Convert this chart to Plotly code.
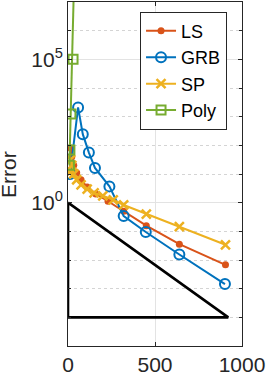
import plotly.graph_objects as go

# ---- data ----
ls_x = [10, 15, 22, 33, 50, 75, 110, 160, 230, 320, 450, 640, 905]
ls_y = [1.3e1, 8e1, 4e1, 2e1, 1.1e1, 6.3, 3.5, 2.0, 1.12, 0.5, 0.158, 0.0355, 0.0068]

grb_x = [12, 58, 85, 120, 155, 238, 320, 447, 640, 902]
grb_y = [1.0e1, 2.1e3, 2.45e2, 5.6e1, 1.62e1, 3.7, 0.34, 0.095, 0.0155, 0.00145]

sp_x = [10, 15, 22, 33, 50, 75, 110, 150, 200, 260, 320, 450, 640, 905]
sp_y = [1.1e1, 3.2e1, 2.0e1, 1.0e1, 6.3, 4.2, 2.95, 2.2, 1.74, 1.26, 0.83, 0.40, 0.145, 0.034]

poly_x = [8, 11, 17, 29, 40]
poly_y = [2.0e1, 6.9e1, 1.25e3, 1.0e5, 1.0e9]

tri_x = [0, 0, 921, 0]
tri_y = [1.0, 1e-4, 1e-4, 1.0]

x_ticks = [0, 500, 1000]
y_tickvals = [1, 1e5]
y_ticktext = ["10<sup>0</sup>", "10<sup>5</sup>"]

FONT = "Liberation Sans, Arial, Helvetica, sans-serif"
AX = "#262626"

fig = go.Figure()
fig.add_trace(go.Scatter(x=tri_x, y=tri_y, mode="lines",
                         line=dict(color="black", width=2.6), showlegend=False,
                         hoverinfo="skip"))
fig.add_trace(go.Scatter(x=ls_x, y=ls_y, name="LS", mode="lines+markers",
                         line=dict(color="#D95319", width=2),
                         marker=dict(symbol="circle", size=7, color="#D95319")))
fig.add_trace(go.Scatter(x=grb_x, y=grb_y, name="GRB", mode="lines+markers",
                         line=dict(color="#0072BD", width=2),
                         marker=dict(symbol="circle-open", size=10, color="#0072BD",
                                     line=dict(width=2, color="#0072BD"))))
fig.add_trace(go.Scatter(x=sp_x, y=sp_y, name="SP", mode="lines+markers",
                         line=dict(color="#EDB120", width=2),
                         marker=dict(symbol="x-thin-open", size=9, color="#EDB120",
                                     line=dict(width=2.5, color="#EDB120"))))
fig.add_trace(go.Scatter(x=poly_x, y=poly_y, name="Poly", mode="lines+markers",
                         line=dict(color="#77AC30", width=2),
                         marker=dict(symbol="square-open", size=9, color="#77AC30",
                                     line=dict(width=2, color="#77AC30"))))

fig.add_annotation(text="Error", xref="paper", yref="paper", x=-0.345, y=0.5,
                   textangle=-90, showarrow=False, xanchor="center", yanchor="middle",
                   font=dict(family=FONT, size=21, color=AX))

fig.update_layout(
    width=266, height=376,
    margin=dict(l=68, r=24, t=2, b=30, autoexpand=False),
    paper_bgcolor="white", plot_bgcolor="white",
    font=dict(family=FONT, size=21, color=AX),
    showlegend=True,
    legend=dict(x=0.414, y=0.972, xanchor="left", yanchor="top",
                bgcolor="white", bordercolor=AX, borderwidth=1,
                font=dict(family=FONT, size=18, color="black"),
                itemwidth=30, tracegroupgap=0),
    xaxis=dict(range=[0, 1000], tickvals=x_ticks, ticks="inside", ticklen=4,
               tickcolor=AX, showline=True, linecolor=AX, linewidth=1, mirror="allticks",
               showgrid=True, gridcolor="#e3e3e3", gridwidth=1, zeroline=False,
               automargin=False, tickfont=dict(size=21, color=AX)),
    yaxis=dict(type="log", range=[-5, 7], tickvals=y_tickvals, ticktext=y_ticktext,
               ticks="inside", ticklen=4, tickcolor=AX, showline=True, linecolor=AX,
               linewidth=1, mirror="allticks", showgrid=True, gridcolor="#e3e3e3",
               gridwidth=1, zeroline=False, automargin=False,
               tickfont=dict(size=21, color=AX),
               minor=dict(tickmode="linear", tick0=0, dtick=1, ticks="inside", ticklen=3,
                          tickcolor=AX, showgrid=True, griddash="dot",
                          gridcolor="#d4d4d4", gridwidth=1)),
)

fig.write_html("out.html", config={"displayModeBar": False},
               post_script="document.body.style.margin='0';document.body.style.overflow='hidden';")
